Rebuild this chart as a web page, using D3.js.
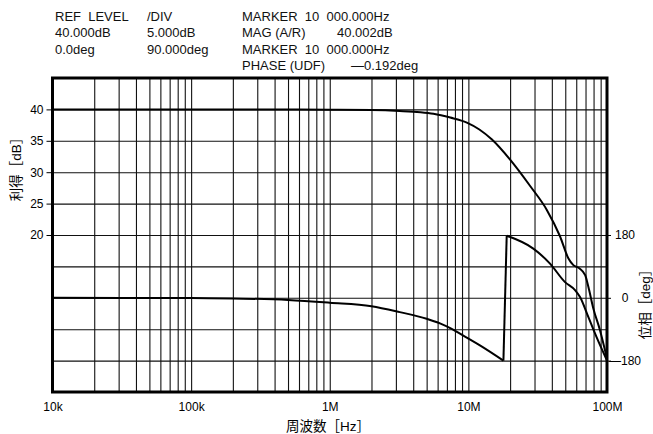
<!DOCTYPE html>
<html>
<head>
<meta charset="utf-8">
<script src="https://cdn.jsdelivr.net/npm/d3@7"></script>
<style>
body { margin: 0; background: #fff; }
svg { display: block; }
text { white-space: pre; }
</style>
</head>
<body>
<div id="chart"></div>
<script>
// gain curve
const freq_mag = [1e4, 1e5, 3e5, 1e6, 2e6, 3.2e6, 4.5e6, 5.6e6, 7.4e6, 9.75e6, 12e6, 14.8e6, 20e6, 27.9e6, 36.8e6, 45.8e6, 52.6e6, 57.2e6, 63.1e6, 69.6e6, 73.3e6, 79.7e6, 89.1e6, 1e8];
const mag_db = [40.0, 40.0, 39.98, 39.95, 39.9, 39.75, 39.55, 39.3, 38.7, 37.9, 36.8, 35.2, 32.0, 27.8, 24.0, 19.8, 16.3, 15.2, 14.7, 13.6, 11.8, 8.3, 4.8, 0.3];

// phase curve (wraps from -180 to +180 near 18MHz)
const freq_phase = [1e4, 1e5, 2e5, 5e5, 1e6, 2e6, 3.2e6, 5e6, 6.3e6, 7.4e6, 8.7e6, 12.2e6, 17.9e6, 18.9e6, 29.4e6, 38.8e6, 49.8e6, 58.8e6, 63.9e6, 73.3e6, 84.1e6, 1e8];
const phase_deg = [-0.19, -0.5, -2, -6, -14, -24, -41, -60, -74, -87, -103, -137, -180, 178, 141, 98, 45, 22, 2, -55, -113, -180];

const freq_ticks = [1e4, 1e5, 1e6, 1e7, 1e8];
const freq_labels = ["10k", "100k", "1M", "10M", "100M"];
const mag_ticks = [40, 35, 30, 25, 20];
const phase_ticks = [180, 0, -180];
const phase_labels = ["180", "0", "\u2014180"];

const header_col1 = ["REF  LEVEL", "40.000dB", "0.0deg"];
const header_col2 = ["/DIV", "5.000dB", "90.000deg"];
const header_col3 = ["MARKER  10  000.000Hz", "MAG (A/R)", "MARKER  10  000.000Hz", "PHASE (UDF)"];
const header_col4 = ["", "40.002dB", "", "\u20140.192deg"];

const config = {
    width: 653,
    height: 434,
    margin: { top: 78, left: 52.5, bottom: 42, right: 46 },
    font: "'Liberation Sans', Arial, Helvetica, 'Noto Sans CJK JP', sans-serif",
    headerX: [55, 147, 242, [0, 337, 0, 351]],
    headerY: [21, 37.3, 53.6, 70]
}

const svg = d3.select("#chart")
    .append("svg")
    .attr("width", config.width)
    .attr("height", config.height)
    .attr("font-family", config.font)

const x0 = config.margin.left, x1 = config.width - config.margin.right;
const y0 = config.height - config.margin.bottom, y1 = config.margin.top;

const scale_x = d3.scaleLog().domain([1e4, 1e8]).range([x0, x1]);
const scale_mag = d3.scaleLinear().domain([-5, 45]).range([y0, y1]);
const scale_phase = d3.scaleLinear().domain([-270, 630]).range([y0, y1]);

draw_grid()
draw_axis()
draw_curves()
draw_header()

function draw_grid() {
    // vertical grid: 2..9 of every decade
    const grid_x = scale_x.ticks().filter(d => d > 1e4 && d < 1e8);
    const gx = svg.append("g")
        .attr("transform", `translate(0, ${y0})`)
        .call(d3.axisBottom(scale_x).tickValues(grid_x).tickSize(-(y0 - y1)).tickFormat(""))
    gx.select(".domain").remove()
    gx.selectAll("line").attr("stroke", "#111").attr("stroke-width", 1.1)

    const grid_y = scale_mag.ticks(10).filter(d => d > -5 && d < 45);
    const gy = svg.append("g")
        .attr("transform", `translate(${x0}, 0)`)
        .call(d3.axisRight(scale_mag).tickValues(grid_y).tickSize(x1 - x0).tickFormat(""))
    gy.select(".domain").remove()
    gy.selectAll("line").attr("stroke", "#111").attr("stroke-width", 1.1)
}

function draw_axis() {
    const axis_left = svg.append("g")
        .attr("transform", `translate(${x0}, 0)`)
        .call(d3.axisLeft(scale_mag).tickValues(mag_ticks).tickSize(6).tickPadding(3))
    axis_left.select(".domain").remove()
    axis_left.attr("font-size", 12).attr("font-family", config.font)

    const axis_right = svg.append("g")
        .attr("transform", `translate(${x1}, 0)`)
        .call(d3.axisRight(scale_phase).tickValues(phase_ticks).tickSize(4)
            .tickFormat((d, i) => phase_labels[i]))
    axis_right.select(".domain").remove()
    axis_right.attr("font-size", 12).attr("font-family", config.font)
    axis_right.selectAll("text").attr("text-anchor", "middle").attr("x", 18)

    const axis_bottom = svg.append("g")
        .attr("transform", `translate(0, ${y0})`)
        .call(d3.axisBottom(scale_x).tickValues(freq_ticks).tickSize(0).tickPadding(10)
            .tickFormat((d, i) => freq_labels[i]))
    axis_bottom.select(".domain").remove()
    axis_bottom.attr("font-size", 12).attr("font-family", config.font)

    // titles
    svg.append("text")
        .attr("transform", `translate(17.5, 166) rotate(-90)`)
        .attr("text-anchor", "middle")
        .attr("dominant-baseline", "middle")
        .attr("font-size", 13.5)
        .text("利得［dB］")
    svg.append("text")
        .attr("transform", `translate(646, 301) rotate(-90)`)
        .attr("text-anchor", "middle")
        .attr("dominant-baseline", "middle")
        .attr("font-size", 13.5)
        .text("位相［deg］")
    svg.append("text")
        .attr("x", 328)
        .attr("y", 431)
        .attr("text-anchor", "middle")
        .attr("font-size", 13.5)
        .text("周波数［Hz］")

    // frame
    svg.append("rect")
        .attr("x", x0).attr("y", y1)
        .attr("width", x1 - x0).attr("height", y0 - y1)
        .attr("fill", "none")
        .attr("stroke", "#000")
        .attr("stroke-width", 3)
}

function draw_curves() {
    const mag = freq_mag.map((f, i) => [f, mag_db[i]]);
    const line_mag = d3.line()
        .x(d => scale_x(d[0]))
        .y(d => scale_mag(d[1]))
        .curve(d3.curveMonotoneX)
    svg.append("path")
        .attr("d", line_mag(mag))
        .attr("fill", "none")
        .attr("stroke", "#000")
        .attr("stroke-width", 2)

    // split phase at the wrap so the smooth curve keeps sharp corners
    const phase = freq_phase.map((f, i) => [f, phase_deg[i]]);
    let cut = 1;
    while (cut < phase.length && phase[cut][1] - phase[cut - 1][1] < 180) cut++;
    const line_phase = d3.line()
        .x(d => scale_x(d[0]))
        .y(d => scale_phase(d[1]))
        .curve(d3.curveMonotoneX)
    const line_jump = d3.line()
        .x(d => scale_x(d[0]))
        .y(d => scale_phase(d[1]))
    const pieces = [
        line_phase(phase.slice(0, cut)),
        line_jump(phase.slice(cut - 1, cut + 1)),
        line_phase(phase.slice(cut))
    ];
    svg.append("g").selectAll("path")
        .data(pieces)
        .join("path")
        .attr("d", d => d)
        .attr("fill", "none")
        .attr("stroke", "#000")
        .attr("stroke-width", 2)
        .attr("stroke-linejoin", "round")
}

function draw_header() {
    const g = svg.append("g").attr("font-size", 13).attr("fill", "#111")
    const cols = [header_col1, header_col2, header_col3, header_col4];
    cols.forEach((col, c) => {
        col.forEach((t, r) => {
            if (!t) return;
            const xx = Array.isArray(config.headerX[c]) ? config.headerX[c][r] : config.headerX[c];
            g.append("text")
                .attr("x", xx)
                .attr("y", config.headerY[r])
                .text(t)
        })
    })
}
</script>
</body>
</html>
